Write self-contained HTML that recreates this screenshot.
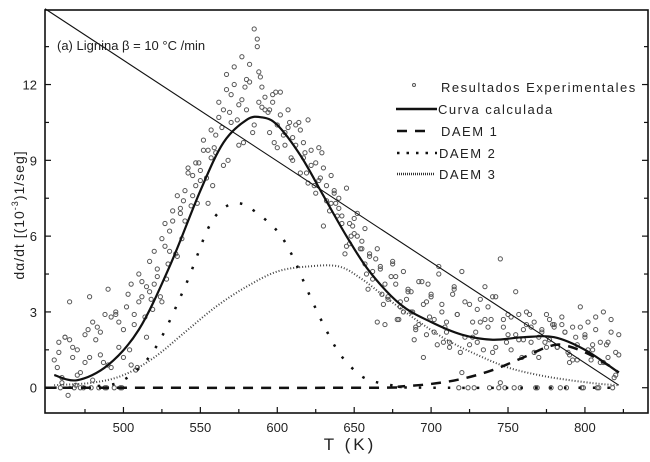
<!DOCTYPE html>
<html><head><meta charset="utf-8">
<style>
body{margin:0;background:#fff;}
svg{display:block;font-family:"Liberation Sans",sans-serif;}
</style></head>
<body>
<svg id="chart" width="650" height="462" viewBox="0 0 650 462" xmlns="http://www.w3.org/2000/svg">
<g id="plot"></g>
<g id="axes"></g>
<text x="57" y="50" font-size="13" fill="#222">(a) Lignina β = 10 °C /min</text>
<text x="350" y="450" font-size="17" text-anchor="middle" fill="#222" letter-spacing="3">T (K)</text>
<text transform="translate(24,215) rotate(-90)" font-size="14" text-anchor="middle" fill="#222" letter-spacing="1">dα/dt [(10<tspan dy="-6" font-size="9">-3</tspan><tspan dy="6">)1/seg]</tspan></text>
<g id="legend">
<g><circle cx="414" cy="85" r="1.5" fill="none" stroke="#555"/><text x="441" y="92" font-size="13" letter-spacing="1.5" fill="#222">Resultados Experimentales</text></g>
<g><line x1="396" y1="109" x2="437" y2="109" stroke="#111" stroke-width="2.5"/><text x="438" y="114" font-size="13" letter-spacing="1.5" fill="#222">Curva calculada</text></g>
<g><line x1="397" y1="131" x2="432" y2="131" stroke="#111" stroke-width="2.5" stroke-dasharray="10,8"/><text x="441" y="136" font-size="13" letter-spacing="1.5" fill="#222">DAEM 1</text></g>
<g><line x1="397" y1="153" x2="437" y2="153" stroke="#111" stroke-width="2.5" stroke-dasharray="2.5,7"/><text x="439" y="158" font-size="13" letter-spacing="1.5" fill="#222">DAEM 2</text></g>
<g><line x1="397" y1="174" x2="435" y2="174" stroke="#333" stroke-width="2.5" stroke-dasharray="1,1"/><text x="439" y="179" font-size="13" letter-spacing="1.5" fill="#222">DAEM 3</text></g>
</g>
</svg>
<script>
const xTicks=[500,550,600,650,700,750,800];
const yTicks=[0,3,6,9,12];
const calcT=[455,470,490,510,530,550,565,580,590,600,615,630,645,660,680,700,720,740,760,780,800,822];
const calcY=[0.5,0.3,0.9,2.3,4.8,7.8,9.7,10.6,10.7,10.4,9.2,7.6,6.0,4.6,3.3,2.6,2.1,1.9,2.0,2.0,1.5,0.6];
const d1T=[449,660,680,700,720,740,760,775,785,800,815,822];
const d1Y=[0,0,0.05,0.15,0.35,0.7,1.2,1.6,1.7,1.4,0.9,0.6];
const d2T=[455,480,500,520,540,555,565,575,585,600,610,620,630,640,650,660,680,700,822];
const d2Y=[0,0.05,0.3,1.5,4.0,6.3,7.1,7.3,7.0,6.2,5.2,3.8,2.5,1.4,0.7,0.3,0.05,0,0];
const d3T=[455,480,500,520,540,560,580,600,620,640,655,670,690,710,730,750,770,790,810,822];
const d3Y=[0.1,0.2,0.5,1.2,2.2,3.2,4.0,4.6,4.8,4.8,4.3,3.6,2.7,1.9,1.3,0.8,0.5,0.3,0.15,0.1];
const lineT=[449,822];
const lineY=[15,0.1];
const expT=[455,458,460,462,465,467,470,472,475,478,480,483,485,488,490,492,495,497,500,503,505,507,510,512,515,517,520,522,525,527,530,532,535,537,540,542,545,547,550,552,555,557,560,562,565,567,570,572,575,577,580,582,585,587,588,590,592,595,597,600,602,605,607,610,612,615,617,620,622,625,627,630,632,635,637,640,642,645,647,650,652,655,657,660,662,665,667,670,672,675,677,680,682,685,687,690,692,695,697,700,702,705,707,710,712,715,717,720,722,725,727,730,732,735,737,740,742,745,747,750,752,755,757,760,762,765,767,770,772,775,777,780,782,785,787,790,792,795,797,800,802,805,807,810,812,815,817,820,822,
460,470,480,490,500,510,520,530,540,550,560,570,580,590,600,610,620,630,640,650,660,670,680,690,700,710,720,730,740,750,760,770,780,790,800,810,820,
465,475,485,495,505,515,525,535,545,555,565,575,585,595,605,615,625,635,645,655,665,675,685,695,705,715,725,735,745,755,765,775,785,795,805,815,
458,468,478,488,498,508,518,528,538,548,558,568,578,588,598,608,618,628,638,648,658,668,678,688,698,708,718,728,738,748,758,768,778,788,798,808,818,
457,462,467,472,477,482,487,492,497,502,507,512,517,522,527,532,537,542,547,552,557,562,567,572,577,582,587,592,597,602,607,612,617,622,627,632,637,642,647,652,657,662,667,672,677,682,687,692,697,702,707,712,717,722,727,732,737,742,747,752,757,762,767,772,777,782,787,792,797,802,807,812,817,822,
459,464,469,474,479,484,489,494,499,504,509,514,519,524,529,534,539,544,549,554,559,564,569,574,579,584,589,594,599,604,609,614,619,624,629,634,639,644,649,654,659,664,669,674,679,684,689,694,699,704,709,714,719,724,729,734,739,744,749,754,759,764,769,774,779,784,789,794,799,804,809,814,819];
const expY=[1.1,1.8,0.2,2.0,3.4,1.2,1.5,0.0,2.1,3.6,0.3,2.4,1.3,2.9,3.9,0.8,3.0,2.6,1.2,3.7,4.1,2.9,4.5,3.6,4.0,5.0,5.4,4.7,5.9,6.5,6.2,7.0,7.6,7.1,7.8,8.7,8.4,8.9,8.6,9.8,9.4,10.2,10.0,11.3,11.0,12.4,11.6,12.7,11.2,13.1,11.0,12.1,14.2,13.5,12.5,11.9,11.5,11.0,11.3,10.4,11.7,10.1,11.0,9.9,10.4,10.2,9.1,10.6,9.4,8.9,9.5,8.7,8.0,8.4,7.8,7.5,6.8,7.9,6.5,6.1,6.9,5.8,6.3,5.2,4.6,5.5,4.8,4.1,3.5,5.0,4.4,3.2,4.6,3.8,3.0,2.4,4.2,3.3,2.1,3.7,2.7,4.5,3.0,2.2,1.6,3.9,2.9,4.6,2.0,3.3,2.6,1.8,3.5,4.0,2.4,1.4,3.6,5.1,2.7,2.1,1.5,3.8,2.9,2.3,3.0,1.8,2.6,1.2,2.3,2.9,1.9,2.5,1.6,2.8,2.2,1.0,2.4,1.7,3.2,2.0,2.6,1.5,2.3,1.8,3.0,1.2,2.7,1.4,2.1,
0.4,0.5,2.6,0.9,2.3,3.4,4.1,5.4,6.6,8.2,9.3,10.5,12.2,11.1,9.5,9.0,8.1,6.4,7.1,6.7,5.3,2.5,3.4,2.3,3.6,2.6,0.6,3.1,3.6,2.9,1.9,2.0,2.4,1.3,2.1,1.0,0.5,
1.9,1.0,2.2,2.9,0.9,2.0,3.4,5.2,7.6,7.3,8.8,9.6,10.4,10.1,9.6,8.5,7.7,7.3,5.6,5.5,2.6,4.9,3.9,1.2,4.8,4.0,1.7,2.7,0.2,2.1,2.4,1.6,2.5,1.1,1.7,1.8,
1.4,0.0,1.2,0.0,0.0,0.7,3.5,4.3,5.9,7.3,8.0,9.0,9.7,11.3,9.7,10.5,9.3,8.3,7.3,6.0,4.5,3.7,2.7,3.0,4.1,1.8,0.0,0.0,0.0,0.0,0.0,0.0,0.0,0.0,0.0,0.0,0.0,
0.8,2.0,1.6,0.6,2.3,1.9,1.0,2.8,1.6,3.2,2.5,4.2,3.8,4.4,5.6,6.6,6.9,8.5,8.0,9.4,9.1,10.7,11.8,12.0,11.4,12.8,13.8,11.0,11.6,10.8,10.3,9.6,9.7,8.8,8.2,7.4,7.7,6.5,5.7,6.0,4.9,4.3,4.7,3.6,4.1,3.0,3.8,2.5,3.4,2.2,3.3,1.8,2.9,3.4,2.0,2.6,3.2,1.6,2.4,2.8,1.9,2.5,1.4,2.2,2.7,1.6,2.2,1.1,2.4,1.5,2.8,1.0,2.2,1.3,
0.0,-0.3,0.1,0.0,0.0,0.0,0.0,0.0,0.0,1.5,0.8,2.8,3.1,3.6,4.9,5.3,7.4,7.2,8.9,8.3,9.5,10.3,10.9,10.6,11.9,10.1,12.3,10.9,11.7,10.0,9.1,10.5,8.5,8.0,9.3,7.0,6.8,5.3,6.4,5.5,3.9,5.1,3.3,4.4,2.7,3.5,1.9,4.2,2.8,1.7,2.4,3.7,1.4,0.0,2.2,1.5,2.7,0.0,1.8,0.0,1.2,2.9,0.0,1.8,2.5,0.0,1.4,2.0,0.0,1.1,0.0,1.7,0.4];
const ns="http://www.w3.org/2000/svg";
const X0=449,X1=841,PX0=45,PX1=648;
const Y0=-1,Y1=14.95,PY0=413,PY1=10;
function sx(t){return PX0+(t-X0)/(X1-X0)*(PX1-PX0);}
function sy(v){return PY0-(v-Y0)/(Y1-Y0)*(PY0-PY1);}
const plot=document.getElementById('plot'),axes=document.getElementById('axes');
function mk(tag,attrs,parent){const e=document.createElementNS(ns,tag);for(const k in attrs)e.setAttribute(k,attrs[k]);parent.appendChild(e);return e;}
function smooth(T,Y){const p=T.map((t,i)=>[sx(t),sy(Y[i])]);let d='M'+p[0][0]+','+p[0][1];
for(let i=0;i<p.length-1;i++){const p0=p[i-1]||p[i],p1=p[i],p2=p[i+1],p3=p[i+2]||p2;
const c1=[p1[0]+(p2[0]-p0[0])/6,p1[1]+(p2[1]-p0[1])/6],c2=[p2[0]-(p3[0]-p1[0])/6,p2[1]-(p3[1]-p1[1])/6];
d+=' C'+c1+' '+c2+' '+p2;}return d;}
const n=Math.min(expT.length,expY.length);
for(let i=0;i<n;i++){
const c=mk('circle',{cx:sx(expT[i]),cy:sy(expY[i]),r:2.1,fill:'none',stroke:'#555','stroke-width':1},plot);

}
let e;
e=mk('path',{d:smooth(lineT,lineY),fill:'none',stroke:'#111','stroke-width':1.1},plot);


e=mk('path',{d:smooth(d3T,d3Y),fill:'none',stroke:'#444','stroke-width':2,'stroke-dasharray':'1,2'},plot);


e=mk('path',{d:smooth(d2T,d2Y),fill:'none',stroke:'#111','stroke-width':2.5,'stroke-dasharray':'2.5,12'},plot);


e=mk('path',{d:smooth(d1T,d1Y),fill:'none',stroke:'#111','stroke-width':2.5,'stroke-dasharray':'10,8'},plot);


e=mk('path',{d:smooth(calcT,calcY),fill:'none',stroke:'#111','stroke-width':2.2},plot);


e=mk('rect',{x:PX0,y:PY1,width:PX1-PX0,height:PY0-PY1,fill:'none',stroke:'#111','stroke-width':1.6},axes);


for(let t=475;t<=825;t+=25){const x=sx(t),maj=t%50===0;
mk('line',{x1:x,y1:PY0,x2:x,y2:PY0-(maj?6:4),stroke:'#111','stroke-width':1.2},axes);}
xTicks.forEach(t=>{const tx=mk('text',{x:sx(t),y:PY0+19,'font-size':13,'text-anchor':'middle',fill:'#222'},axes);tx.textContent=t;

});
for(let v=0;v<=13.5;v+=1.5){const y=sy(v),maj=v%3===0;
mk('line',{x1:PX0,y1:y,x2:PX0+(maj?6:4),y2:y,stroke:'#111','stroke-width':1.2},axes);
mk('line',{x1:PX1,y1:y,x2:PX1-(maj?6:4),y2:y,stroke:'#111','stroke-width':1.2},axes);}
yTicks.forEach(v=>{const tx=mk('text',{x:PX0-8,y:sy(v)+5,'font-size':13,'text-anchor':'end',fill:'#222'},axes);tx.textContent=v;

});
</script>
</body></html>
